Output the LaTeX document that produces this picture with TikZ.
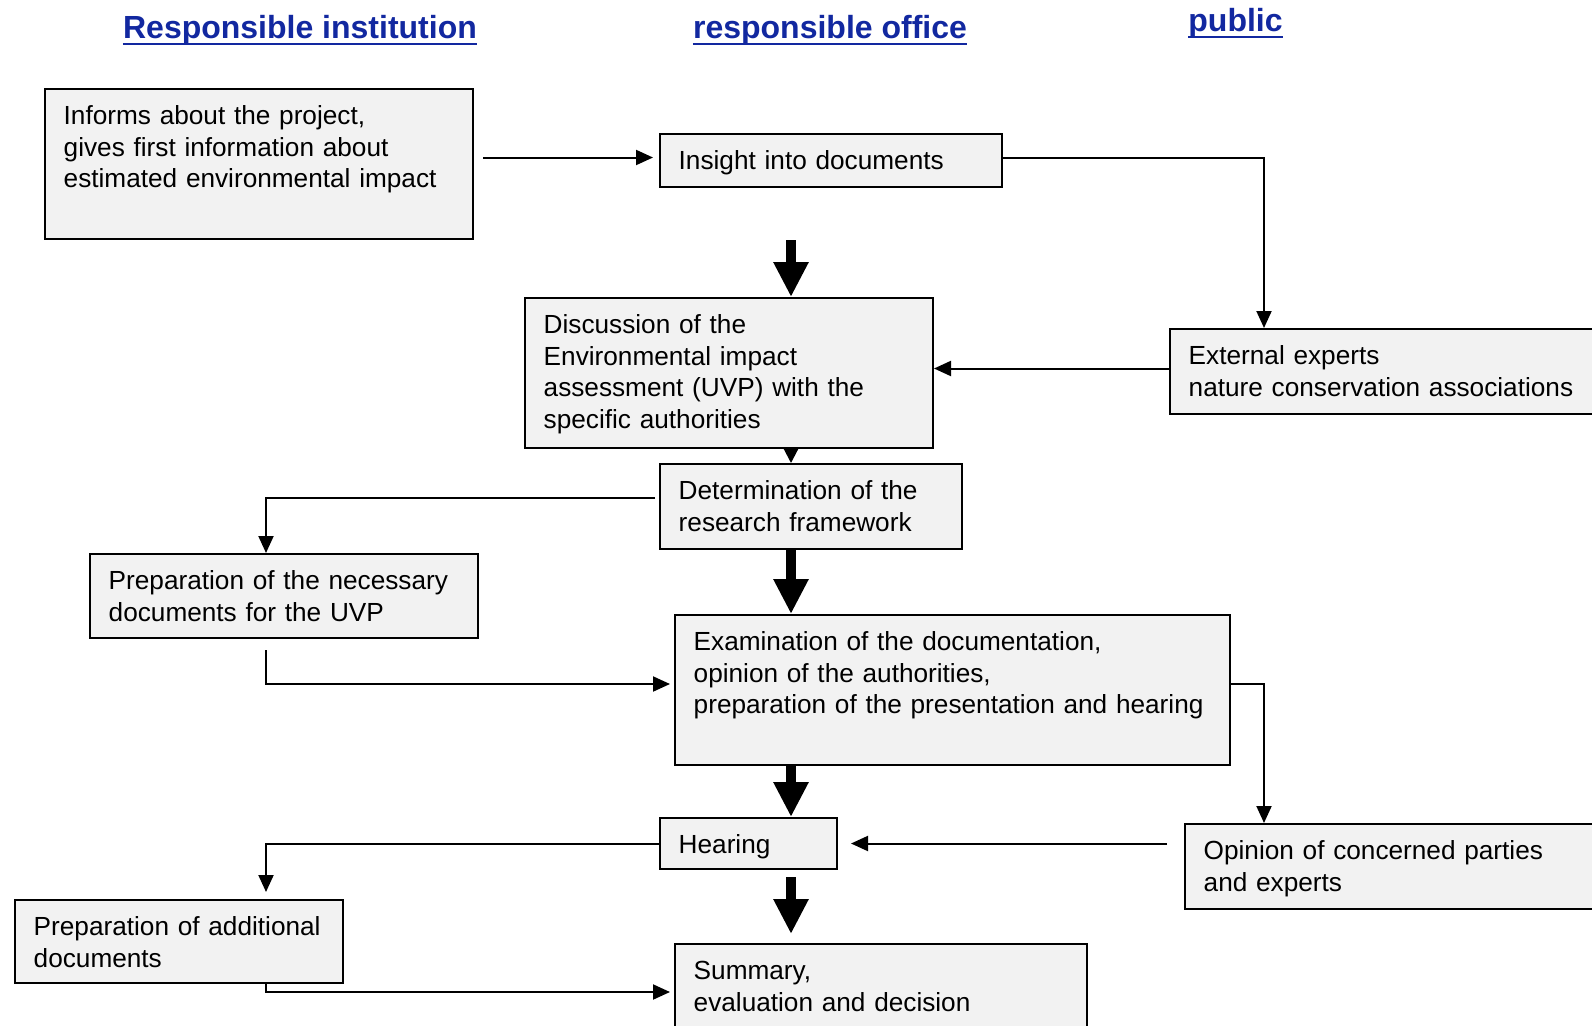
\documentclass[tikz,border=0pt]{standalone}
\usepackage{fontspec}
\setmainfont{Liberation Sans}
\usetikzlibrary{arrows.meta, calc}

\definecolor{boxgray}{RGB}{242,242,242}
\definecolor{headblue}{RGB}{18,40,160}

\tikzset{
	box/.style={draw, line width=2pt, fill=boxgray, anchor=north west, inner sep=0pt},
	txt/.style={anchor=base west, inner sep=0pt, align=left, text width=560pt, font=\fontsize{26.2}{31.5}\selectfont},
	head/.style={anchor=base, inner sep=0pt, text=headblue, font=\fontsize{32}{36}\selectfont\bfseries},
	uline/.style={draw=headblue, line width=2pt},
	flow/.style={-{Triangle[width=15pt,length=17pt]}, line width=2pt},
	bigflow/.style={-{Triangle[width=33pt,length=35pt]}, line width=10pt},
	smallflow/.style={-{Triangle[width=14pt,length=14pt]}, line width=2pt}
}

\begin{document}
\begin{tikzpicture}[x=1pt, y=-1pt]
			\path[use as bounding box, fill=white] (0,0) rectangle (1592,1025);
			
			\coordinate (axis) at (791,0);
			\coordinate (leftcol) at (266,0);
			\coordinate (rightcol) at (1264,0);
			
			% column headings
			\node[head] (hinst) at (300,39) {Responsible institution};
			\node[head] (hoffice) at (830,39) {responsible office};
			\node[head] (hpublic) at (1235.5,32) {public};
			\foreach \h in {hinst, hoffice, hpublic}
				\draw[uline] ([yshift=-5.5pt]\h.base west) -- ([yshift=-5.5pt]\h.base east);
			
			% boxes
			\node[box, minimum width=428, minimum height=150] (inform) at (44,88) {};
			\node[box, minimum width=342, minimum height=53] (insight) at (659,133) {};
			\node[box, minimum width=408, minimum height=150] (discuss) at (524,297) {};
			\node[box, minimum width=440, minimum height=85] (experts) at (1169,328) {};
			\node[box, minimum width=302, minimum height=85] (determine) at (659,463) {};
			\node[box, minimum width=388, minimum height=84] (prepdocs) at (89,553) {};
			\node[box, minimum width=555, minimum height=150] (exam) at (674,614) {};
			\node[box, minimum width=177, minimum height=51] (hearing) at (659,817) {};
			\node[box, minimum width=420, minimum height=85] (opinion) at (1184,823) {};
			\node[box, minimum width=328, minimum height=83] (prepadd) at (14,899) {};
			\node[box, minimum width=412, minimum height=100] (summary) at (674,943) {};
			
			\node[txt] (inform-t) at ([shift={(19.5pt,-36.5pt)}]inform.north west)
				{Informs about the project,\\gives first information about\\estimated environmental impact};
			\node[txt] (insight-t) at ([shift={(19.5pt,-36.5pt)}]insight.north west) {Insight into documents};
			\node[txt] (discuss-t) at ([shift={(19.5pt,-36.5pt)}]discuss.north west)
				{Discussion of the\\Environmental impact\\assessment (UVP) with the\\specific authorities};
			\node[txt] (experts-t) at ([shift={(19.5pt,-36.5pt)}]experts.north west)
				{External experts\\nature conservation associations};
			\node[txt] (determine-t) at ([shift={(19.5pt,-36.5pt)}]determine.north west)
				{Determination of the\\research framework};
			\node[txt] (prepdocs-t) at ([shift={(19.5pt,-36.5pt)}]prepdocs.north west)
				{Preparation of the necessary\\documents for the UVP};
			\node[txt] (exam-t) at ([shift={(19.5pt,-36.5pt)}]exam.north west)
				{Examination of the documentation,\\opinion of the authorities,\\preparation of the presentation and hearing};
			\node[txt] (hearing-t) at ([shift={(19.5pt,-36.5pt)}]hearing.north west) {Hearing};
			\node[txt] (opinion-t) at ([shift={(19.5pt,-36.5pt)}]opinion.north west)
				{Opinion of concerned parties\\and experts};
			\node[txt] (prepadd-t) at ([shift={(19.5pt,-36.5pt)}]prepadd.north west)
				{Preparation of additional\\documents};
			\node[txt] (summary-t) at ([shift={(19.5pt,-36.5pt)}]summary.north west)
				{Summary,\\evaluation and decision};
			
			% main line
			\draw[bigflow, shorten <=52pt] (axis |- insight.south) -- (axis |- discuss.north);
			\draw[smallflow] (axis |- discuss.south) -- (axis |- determine.north);
			\draw[bigflow] (axis |- determine.south) -- (axis |- exam.north);
			\draw[bigflow] (axis |- exam.south) -- (axis |- hearing.north);
			\draw[bigflow, shorten <=7pt, shorten >=9pt] (axis |- hearing.south) -- (axis |- summary.north);
			
			% side flows
			\draw[flow, shorten <=9pt, shorten >=6pt] ($(inform.east |- insight.west)+(0,-3)$) -- ([yshift=3pt]insight.west);
			\draw[flow] ([yshift=3pt]insight.east) -| (rightcol |- experts.north);
			\draw[flow] ([yshift=3pt]experts.west) -- ($(discuss.east |- experts.west)+(0,-3)$);
			\draw[flow, shorten <=4pt] ([yshift=9pt]determine.west) -| (leftcol |- prepdocs.north);
			\draw[flow, shorten <=11pt, shorten >=4pt] (leftcol |- prepdocs.south) |- ([yshift=6pt]exam.west);
			\draw[flow] ([yshift=6pt]exam.east) -| (rightcol |- opinion.north);
			\draw[flow, shorten <=17pt, shorten >=13pt] (opinion.west |- hearing.east) -- (hearing.east);
			\draw[flow, shorten >=7pt] (hearing.west) -| (leftcol |- prepadd.north);
			\draw[flow, shorten >=4pt] (leftcol |- prepadd.south) |- ([yshift=-49pt]summary.north west);
\end{tikzpicture}
\end{document}
